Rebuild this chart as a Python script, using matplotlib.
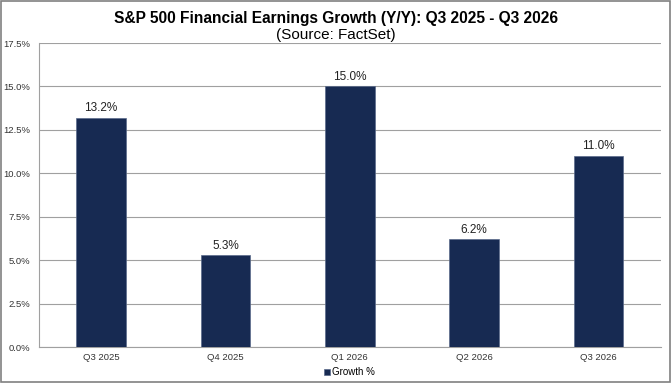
import matplotlib
matplotlib.use("Agg")
import matplotlib.pyplot as plt
from matplotlib.patches import Rectangle
from matplotlib.ticker import FuncFormatter

# data
quarters = ["Q3 2025", "Q4 2025", "Q1 2026", "Q2 2026", "Q3 2026"]
growth = [13.2, 5.3, 15.0, 6.2, 11.0]
bar_color = "#172a52"

plt.rcParams['font.family'] = ['Liberation Sans', 'DejaVu Sans']

fig = plt.figure(figsize=(6.72, 3.84), dpi=100)
ax = fig.add_axes([0.058, 0.096, 0.925, 0.792])

bars = ax.bar(quarters, growth, width=0.4, color=bar_color, edgecolor="#5a6a8a",
              linewidth=0.5, label="Growth %", zorder=3)
for b, v in zip(bars, growth):
    ax.text(b.get_x() + b.get_width() / 2, v + 0.2, f"{v:.1f}%",
            ha="center", va="bottom", fontsize=8.5, color="#222222")

ax.set_ylim(0, 17.5)
ax.set_yticks([0, 2.5, 5, 7.5, 10, 12.5, 15, 17.5])
ax.yaxis.set_major_formatter(FuncFormatter(lambda y, _: f"{y:.1f}%"))
ax.set_xlim(-0.5, 4.5)
ax.grid(axis="y", color="#a0a0a0", linewidth=0.8, zorder=0)
ax.tick_params(axis="both", length=0, labelsize=6.8, colors="#333333")
ax.tick_params(axis="y", pad=6)
ax.tick_params(axis="x", pad=4)
for s in ["top", "right"]:
    ax.spines[s].set_visible(False)
ax.spines["left"].set_color("#a0a0a0")
ax.spines["bottom"].set_color("#a0a0a0")

fig.text(0.5, 0.953, "S&P 500 Financial Earnings Growth (Y/Y): Q3 2025 - Q3 2026",
         ha="center", va="center", fontsize=11.2, fontweight="bold")
fig.text(0.5, 0.909, "(Source: FactSet)", ha="center", va="center", fontsize=11)

ax.legend(loc="center", bbox_to_anchor=(0.5, -0.083), frameon=False,
          fontsize=7, handlelength=0.55, handleheight=0.55, handletextpad=0.25)

fig.patches.append(Rectangle((0.002, 0.005), 0.995, 0.993, transform=fig.transFigure,
                             fill=False, edgecolor="#808080", linewidth=1.2))

fig.savefig("out.png", dpi=100)
